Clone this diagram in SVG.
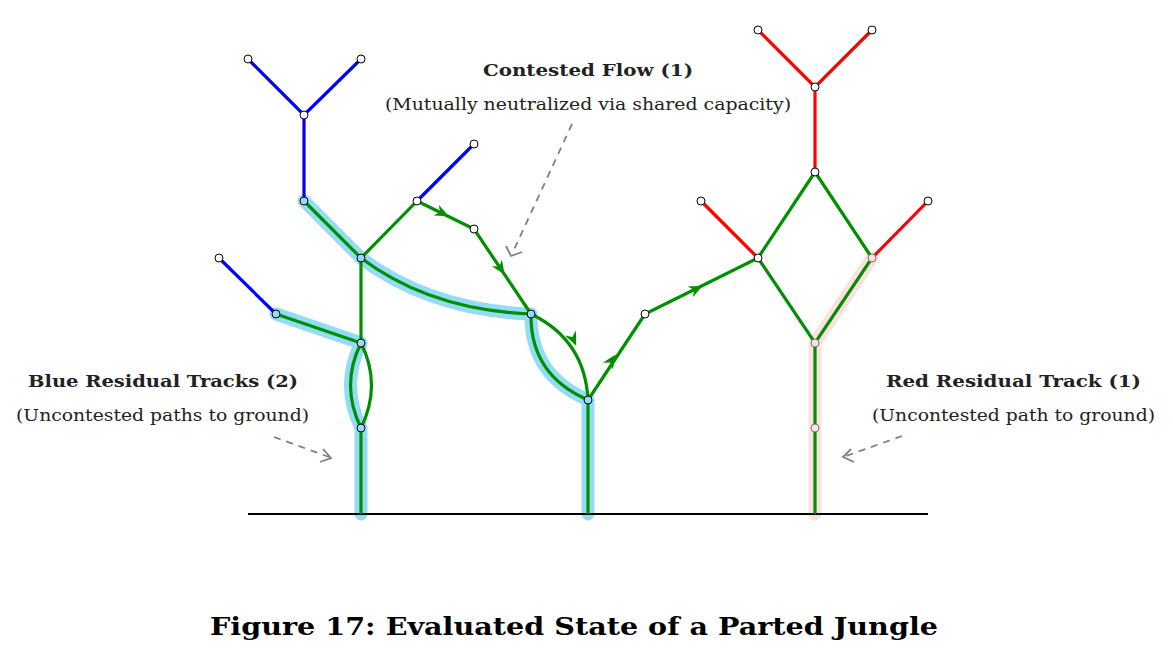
<svg xmlns="http://www.w3.org/2000/svg" width="1173" height="653" viewBox="0 0 1173 653">
<style>
.b{stroke:#0000ff;stroke-width:3.2;fill:none}
.r{stroke:#ff0000;stroke-width:3.2;fill:none}
.g{stroke:#008f00;stroke-width:3.2;fill:none}
.hb{stroke:#94dbf5;stroke-width:13;fill:none;stroke-linecap:round;stroke-linejoin:round}
.hr{stroke:#fde0e0;stroke-width:13;fill:none;stroke-linecap:round;stroke-linejoin:round}
.d{stroke:#808080;stroke-width:1.8;fill:none;stroke-dasharray:7,6}
.ah{stroke:#808080;stroke-width:1.8;fill:none}
.nw{fill:#fff;stroke:#000;stroke-width:1}
.nb{fill:#94dbf5;stroke:#000;stroke-width:1}
.np{fill:#fde0e0;stroke:#777;stroke-width:1}
text{font-family:"DejaVu Serif","Liberation Serif",serif;fill:#222}
.t{font-weight:bold;font-size:16px}
.s{font-size:16px}
</style>
<defs>
<path id="ar" d="M3,0 L-11,-6 L-6.5,0 L-11,6 Z" fill="#008f00"/>
</defs>
<g id="connectors">
<path class="hb" d="M304,201 L361,258 Q430,310 531,314 Q530,375 588,400 L588,514"/>
<path class="hb" d="M276,314 L361,343 Q340,385 361,428 L361,514"/>
<path class="hr" d="M872,258 L815,343 L815,514"/>
<line x1="248" y1="514" x2="928" y2="514" stroke="#000" stroke-width="2"/>
<path class="b" d="M248,59 L304,115 L361,59 M304,115 L304,201 M417,201 L474,144 M219,258 L276,314"/>
<path class="r" d="M758,30 L815,87 L872,30 M815,87 L815,172 M701,201 L758,258 M872,258 L928,201"/>
<path class="g" d="M304,201 L361,258 L417,201 M361,258 L361,343 M361,258 Q430,310 531,314 M276,314 L361,343 M361,343 Q340,385 361,428 M361,343 Q382,385 361,428 M361,428 L361,514"/>
<path class="g" d="M417,201 L474,229 L531,314 M531,314 Q530,375 588,400 M531,314 Q585,340 588,400 M588,400 L588,514 M588,400 L645,314 L758,258 L815,172 L872,258 L815,343 L758,258 M815,343 L815,514"/>
<use href="#ar" transform="translate(446,215) rotate(26)"/>
<use href="#ar" transform="translate(503,272) rotate(56)"/>
<use href="#ar" transform="translate(575,343) rotate(66)"/>
<use href="#ar" transform="translate(614,357) rotate(-56)"/>
<use href="#ar" transform="translate(700,287) rotate(-26)"/>
<path class="d" d="M572,124 L512,254"/>
<path class="ah" d="M506,246 L511,256 L522,252"/>
<path class="d" d="M274,437 L329,457"/>
<path class="ah" d="M323,449 L331,458 L320,462"/>
<path class="d" d="M902,436 L846,456"/>
<path class="ah" d="M851,449 L843,457 L854,462"/>
</g>
<g id="nodes">
<circle class="nw" cx="248" cy="59" r="4"/><circle class="nw" cx="361" cy="59" r="4"/>
<circle class="nw" cx="304" cy="115" r="4"/><circle class="nb" cx="304" cy="201" r="4"/>
<circle class="nb" cx="361" cy="258" r="4"/><circle class="nw" cx="474" cy="144" r="4"/>
<circle class="nw" cx="417" cy="201" r="4"/><circle class="nw" cx="219" cy="258" r="4"/>
<circle class="nb" cx="276" cy="314" r="4"/><circle class="nb" cx="361" cy="343" r="4"/>
<circle class="nb" cx="361" cy="428" r="4"/><circle class="nw" cx="474" cy="229" r="4"/>
<circle class="nb" cx="531" cy="314" r="4"/><circle class="nb" cx="588" cy="400" r="4"/>
<circle class="nw" cx="645" cy="314" r="4"/><circle class="nw" cx="758" cy="258" r="4"/>
<circle class="nw" cx="815" cy="172" r="4"/><circle class="nw" cx="815" cy="87" r="4"/>
<circle class="nw" cx="758" cy="30" r="4"/><circle class="nw" cx="872" cy="30" r="4"/>
<circle class="nw" cx="701" cy="201" r="4"/><circle class="nw" cx="928" cy="201" r="4"/>
<circle class="np" cx="872" cy="258" r="4"/><circle class="np" cx="815" cy="343" r="4"/>
<circle class="np" cx="815" cy="428" r="4"/>
</g>
<g id="labels">
<text class="t" x="483" y="76" textLength="210" lengthAdjust="spacingAndGlyphs">Contested Flow (1)</text>
<text class="s" x="385" y="110" textLength="406" lengthAdjust="spacingAndGlyphs">(Mutually neutralized via shared capacity)</text>
<text class="t" x="28" y="387" textLength="270" lengthAdjust="spacingAndGlyphs">Blue Residual Tracks (2)</text>
<text class="s" x="16" y="421" textLength="293" lengthAdjust="spacingAndGlyphs">(Uncontested paths to ground)</text>
<text class="t" x="886" y="387" textLength="255" lengthAdjust="spacingAndGlyphs">Red Residual Track (1)</text>
<text class="s" x="872" y="421" textLength="283" lengthAdjust="spacingAndGlyphs">(Uncontested path to ground)</text>
<text x="210" y="635" textLength="728" lengthAdjust="spacingAndGlyphs" style="font-weight:bold;font-size:25px;fill:#000">Figure 17: Evaluated State of a Parted Jungle</text>
</g>
</svg>
